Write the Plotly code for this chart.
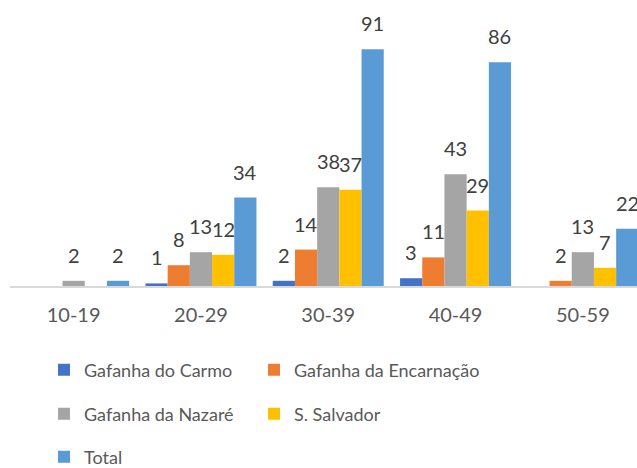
import plotly.graph_objects as go

categories = ["10-19", "20-29", "30-39", "40-49", "50-59"]
series_names = ["Gafanha do Carmo", "Gafanha da Encarnação", "Gafanha da Nazaré", "S. Salvador", "Total"]
carmo = [0, 1, 2, 3, 0]
encarnacao = [0, 8, 14, 11, 2]
nazare = [2, 13, 38, 43, 13]
salvador = [0, 12, 37, 29, 7]
total = [2, 34, 91, 86, 22]
colors = ["#4472C4", "#ED7D31", "#A5A5A5", "#FFC000", "#5B9BD5"]

series_values = [carmo, encarnacao, nazare, salvador, total]

FONT = "Lato"
BARGAP = 0.128
n = len(series_values)
barw = (1 - BARGAP) / n

legend_names = ["legend", "legend2", "legend3", "legend4", "legend5"]

fig = go.Figure()
for k, (name, vals, col) in enumerate(zip(series_names, series_values, colors)):
    fig.add_trace(go.Bar(
        name=name, x=categories, y=vals, marker=dict(color=col, line=dict(width=0)),
        legend=legend_names[k],
    ))

annotations = []
for k, vals in enumerate(series_values):
    for ci, v in enumerate(vals):
        if v == 0:
            continue
        annotations.append(dict(
            x=ci + (k - (n - 1) / 2) * barw, y=v, xref="x", yref="y",
            text=str(v), showarrow=False, yanchor="bottom", yshift=12,
            font=dict(family=FONT, size=20, color="#404040"),
        ))

# legend layout: (col, row)
leg_pos = [(0, 0), (1, 0), (0, 1), (1, 1), (0, 2)]
W, H = 637, 468
ml, mr, mt, mb = 10, 0, 0, 182
pw = W - ml - mr
ph = H - mt - mb
text_x = [84, 294]
row_y = [370, 414, 457]
legend_layouts = {}
for k, (c, r) in enumerate(leg_pos):
    px = text_x[c] - 40
    py = row_y[r]
    legend_layouts[legend_names[k]] = dict(
        x=(px - ml) / pw, y=(mt + ph - py) / ph, xanchor="left", yanchor="middle",
        orientation="h", bgcolor="rgba(0,0,0,0)", borderwidth=0,
        font=dict(family=FONT, size=18, color="#595959"),
    )

fig.update_layout(
    width=W, height=H,
    margin=dict(l=ml, r=mr, t=mt, b=mb, autoexpand=False),
    paper_bgcolor="white", plot_bgcolor="white",
    barmode="group", bargap=BARGAP, bargroupgap=0,
    xaxis=dict(
        type="category", range=[-0.5, -0.5 + pw / 127.3],
        showline=True, linecolor="#D9D9D9", linewidth=2,
        showgrid=False, zeroline=False,
        ticks="outside", ticklen=10, tickcolor="rgba(0,0,0,0)",
        tickfont=dict(family=FONT, size=20, color="#595959"),
    ),
    yaxis=dict(range=[0, ph / 2.601], visible=False, showgrid=False, zeroline=False),
    annotations=annotations,
    showlegend=True,
    **legend_layouts,
)

fig.write_html(
    "out.html",
    config={"displayModeBar": False},
    post_script="document.body.style.margin='0';document.body.style.overflow='hidden';",
)
